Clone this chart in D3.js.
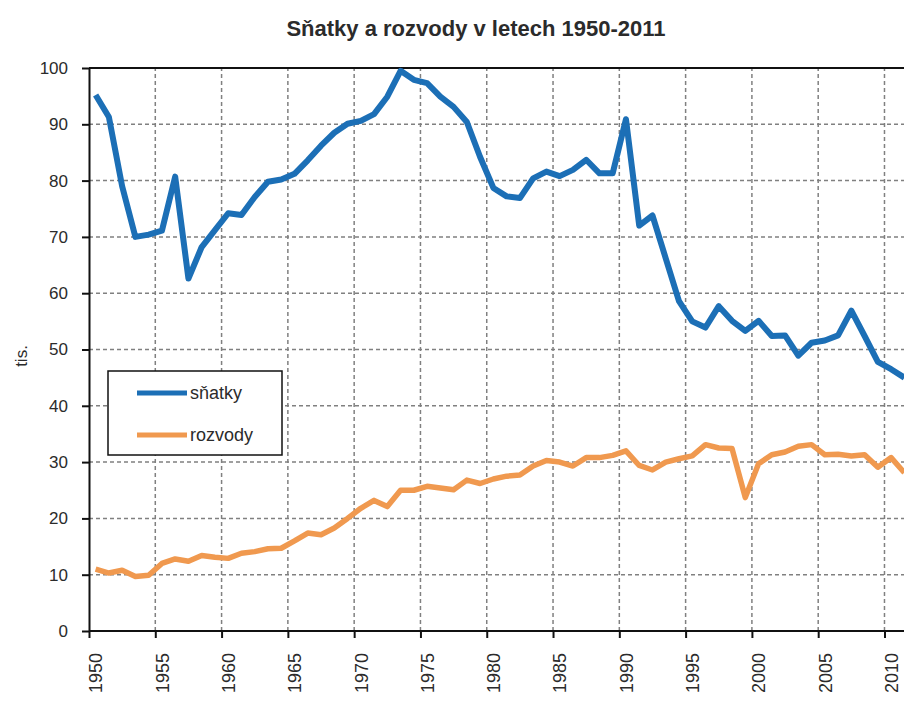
<!DOCTYPE html>
<html>
<head>
<meta charset="utf-8">
<script src="https://cdn.jsdelivr.net/npm/d3@7"></script>
<style>
  body { margin: 0; background: #fff; }
  text { font-family: "Liberation Sans", Arial, sans-serif; fill: #2b2b2b; }
</style>
</head>
<body>
<svg id="chart"></svg>
<script>
// data (thousands)
const years = d3.range(1950, 2012);
const snatky = [
  95.2, 91.3, 79.0, 70.0, 70.4, 71.1, 80.7, 62.6, 68.2, 71.2,
  74.2, 73.9, 77.1, 79.8, 80.2, 81.2, 83.6, 86.2, 88.5, 90.1,
  90.6, 91.8, 94.9, 99.5, 97.9, 97.3, 94.9, 93.1, 90.4, 84.2,
  78.7, 77.2, 76.9, 80.4, 81.6, 80.8, 81.9, 83.7, 81.3, 81.3,
  90.9, 72.0, 73.8, 66.2, 58.6, 55.0, 53.9, 57.7, 55.1, 53.3,
  55.1, 52.4, 52.5, 48.9, 51.2, 51.6, 52.5, 56.9, 52.4, 47.8,
  46.5, 45.0
];
const rozvody = [
  11.0, 10.3, 10.8, 9.7, 9.9, 12.0, 12.8, 12.4, 13.4, 13.1,
  12.9, 13.8, 14.1, 14.6, 14.7, 16.0, 17.4, 17.1, 18.3, 20.0,
  21.8, 23.2, 22.1, 25.0, 25.0, 25.7, 25.4, 25.1, 26.8, 26.2,
  27.0, 27.5, 27.7, 29.3, 30.3, 30.0, 29.3, 30.8, 30.8, 31.2,
  32.0, 29.4, 28.6, 30.0, 30.6, 31.1, 33.1, 32.5, 32.4, 23.7,
  29.7, 31.3, 31.8, 32.8, 33.1, 31.3, 31.4, 31.1, 31.3, 29.1,
  30.8, 28.1
];
const seriesNames = ["sňatky", "rozvody"];
const seriesColors = ["#1c6fb6", "#f0994f"];
const xTicks = d3.range(1950, 2011, 5);
const yTicks = d3.range(0, 101, 10);

const width = 904, height = 703;
const margin = { top: 68, right: -7, bottom: 72, left: 89 };

const svg = d3.select("#chart").attr("width", width).attr("height", height);

const x = d3.scaleLinear()
  .domain([1950, 2012])
  .range([margin.left, width - margin.right]);
const y = d3.scaleLinear()
  .domain([0, 100])
  .range([height - margin.bottom, margin.top]);
const half = x(1950.5) - x(1950); // points sit in the middle of each year

// grid
svg.append("g")
  .selectAll("line")
  .data(yTicks.filter(d => d > 0 && d < 100))
  .join("line")
  .attr("x1", x(1950)).attr("x2", x(2012))
  .attr("y1", d => y(d)).attr("y2", d => y(d))
  .attr("stroke", "#808080").attr("stroke-width", 1.5)
  .attr("stroke-dasharray", "4,3");
svg.append("g")
  .selectAll("line")
  .data(xTicks.filter(d => d > 1950))
  .join("line")
  .attr("x1", d => x(d)).attr("x2", d => x(d))
  .attr("y1", y(0)).attr("y2", y(100))
  .attr("stroke", "#808080").attr("stroke-width", 1.5)
  .attr("stroke-dasharray", "4,3");

// top border
svg.append("line")
  .attr("x1", x(1950)).attr("x2", x(2012))
  .attr("y1", y(100)).attr("y2", y(100))
  .attr("stroke", "#111").attr("stroke-width", 2);

// axes
const yAxis = svg.append("g")
  .attr("transform", `translate(${x(1950)},0)`)
  .call(d3.axisLeft(y).tickValues(yTicks).tickSize(7).tickPadding(14).tickSizeOuter(0));
const xAxis = svg.append("g")
  .attr("transform", `translate(0,${y(0)})`)
  .call(d3.axisBottom(x).tickValues(xTicks).tickSize(7).tickFormat(d3.format("d")).tickSizeOuter(0));

[yAxis, xAxis].forEach(g => {
  g.select(".domain").attr("stroke", "#111").attr("stroke-width", 2);
  g.selectAll(".tick line").attr("stroke", "#111").attr("stroke-width", 2);
  g.selectAll("text").attr("fill", "#2b2b2b");
});
yAxis.selectAll("text").style("font-size", "17px");
xAxis.select(".domain").attr("d", `M${x(1950)},0H${x(2012)}`);
xAxis.selectAll(".tick text")
  .style("font-size", "18px")
  .attr("text-anchor", "end")
  .attr("dy", "0.35em")
  .attr("y", 0)
  .attr("transform", `translate(${half},22) rotate(-90)`);

// lines
const line = d3.line()
  .x((d, i) => x(years[i]) + half)
  .y(d => y(d));
[snatky, rozvody].forEach((s, k) => {
  svg.append("path")
    .datum(s)
    .attr("fill", "none")
    .attr("stroke", seriesColors[k])
    .attr("stroke-width", k === 0 ? 6 : 5.5)
    .attr("stroke-linejoin", "round")
    .attr("d", line);
});

// legend
const legend = svg.append("g");
legend.append("rect")
  .attr("x", 108).attr("y", 371).attr("width", 174).attr("height", 84)
  .attr("fill", "#fff").attr("stroke", "#111").attr("stroke-width", 1.5);
seriesNames.forEach((name, k) => {
  const ly = 393 + k * 42;
  legend.append("line")
    .attr("x1", 137).attr("x2", 187).attr("y1", ly).attr("y2", ly)
    .attr("stroke", seriesColors[k]).attr("stroke-width", 5);
  legend.append("text")
    .attr("x", 190).attr("y", ly).attr("dy", "0.35em")
    .style("font-size", "18px").text(name);
});

// titles
svg.append("text")
  .attr("x", 476).attr("y", 36)
  .attr("text-anchor", "middle")
  .style("font-size", "22px").style("font-weight", "bold")
  .text("Sňatky a rozvody v letech 1950-2011");
svg.append("text")
  .attr("transform", `translate(27,356) rotate(-90)`)
  .attr("text-anchor", "middle")
  .style("font-size", "17px")
  .text("tis.");
</script>
</body>
</html>
